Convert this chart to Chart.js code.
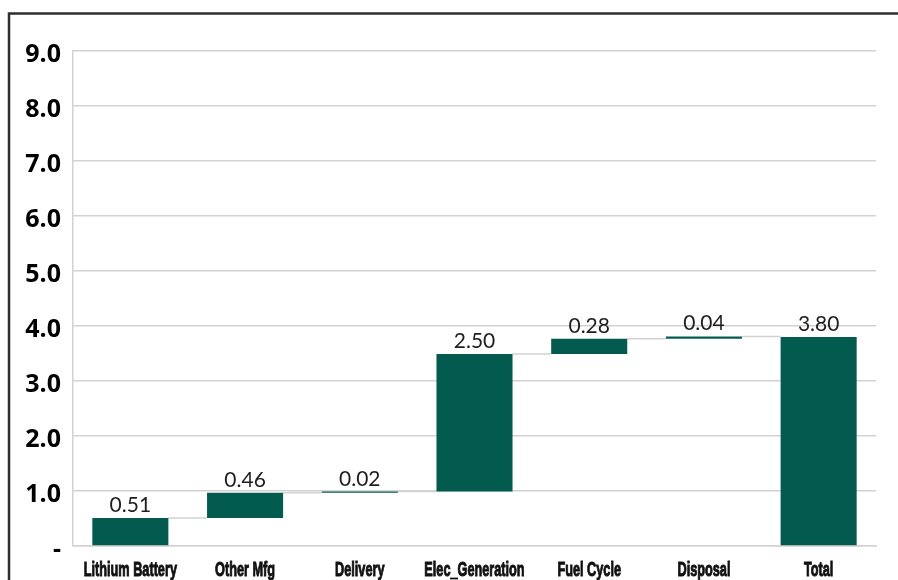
<!DOCTYPE html>
<html>
<head>
<meta charset="utf-8">
<style>
  html, body { margin: 0; padding: 0; background: #ffffff; }
  #wrap { width: 898px; height: 580px; position: relative; }
</style>
<script src="https://cdn.jsdelivr.net/npm/chart.js@4/dist/chart.umd.min.js"></script>
</head>
<body>
<div id="wrap"><canvas id="c" width="898" height="580"></canvas></div>
<script>
// Life-cycle contributions (stacked as a waterfall) and their total
const categories = ['Lithium Battery', 'Other Mfg', 'Delivery', 'Elec_Generation', 'Fuel Cycle', 'Disposal', 'Total'];
const stepValues = [0.51, 0.46, 0.02, 2.50, 0.28, 0.04];
const totalValue = 3.80;
const yTickLabels = ['-', '1.0', '2.0', '3.0', '4.0', '5.0', '6.0', '7.0', '8.0', '9.0'];

const BAR = '#035a4f';
const GRID = '#d2d2d2';

// floating ranges: each step starts where the previous one ended
const ranges = [];
let running = 0;
stepValues.forEach(v => { ranges.push([running, running + v]); running += v; });
ranges.push([0, totalValue]);
const labelValues = stepValues.concat([totalValue]);

const framePlugin = {
  id: 'frame',
  beforeDraw(chart) {
    const ctx = chart.ctx;
    ctx.save();
    ctx.strokeStyle = '#2f2f2f';
    ctx.lineWidth = 2.5;
    ctx.beginPath();
    ctx.moveTo(9, 580);
    ctx.lineTo(9, 13.5);
    ctx.lineTo(898, 13.5);
    ctx.stroke();
    ctx.restore();
  }
};

// thin connectors between consecutive bars at the running level
const connectorPlugin = {
  id: 'connectors',
  beforeDatasetsDraw(chart) {
    const meta = chart.getDatasetMeta(0);
    const y = chart.scales.y;
    const ctx = chart.ctx;
    ctx.save();
    ctx.strokeStyle = GRID;
    ctx.lineWidth = 1.5;
    for (let i = 0; i < meta.data.length - 1; i++) {
      const a = meta.data[i], b = meta.data[i + 1];
      const lvl = y.getPixelForValue(ranges[i][1]);
      ctx.beginPath();
      ctx.moveTo(a.x + a.width / 2, lvl);
      ctx.lineTo(b.x - b.width / 2, lvl);
      ctx.stroke();
    }
    ctx.restore();
  }
};

const valueLabelPlugin = {
  id: 'valueLabels',
  afterDatasetsDraw(chart) {
    const meta = chart.getDatasetMeta(0);
    const y = chart.scales.y;
    const ctx = chart.ctx;
    ctx.save();
    ctx.fillStyle = '#1e1e1e';
    ctx.font = '21px Lato, "Open Sans", sans-serif';
    ctx.textAlign = 'center';
    ctx.textBaseline = 'alphabetic';
    meta.data.forEach((bar, i) => {
      const top = y.getPixelForValue(Math.max(ranges[i][0], ranges[i][1]));
      ctx.fillText(labelValues[i].toFixed(2), bar.x, top - 6);
    });
    ctx.restore();
  }
};

// condensed heavy category labels under the axis
const categoryLabelPlugin = {
  id: 'categoryLabels',
  afterDraw(chart) {
    const x = chart.scales.x;
    const ctx = chart.ctx;
    ctx.save();
    ctx.fillStyle = '#111111';
    ctx.strokeStyle = '#111111';
    ctx.lineWidth = 1;
    ctx.font = 'bold 21px "Liberation Sans", Arial, sans-serif';
    ctx.textAlign = 'center';
    ctx.textBaseline = 'alphabetic';
    categories.forEach((c, i) => {
      const cx = x.getPixelForTick(i);
      ctx.save();
      ctx.translate(cx, 576);
      ctx.scale(0.605, 1);
      ctx.fillText(c, 0, 0);
      ctx.strokeText(c, 0, 0);
      ctx.restore();
    });
    ctx.restore();
  }
};

new Chart(document.getElementById('c'), {
  type: 'bar',
  data: {
    labels: categories,
    datasets: [{
      data: ranges,
      backgroundColor: BAR,
      borderWidth: 0,
      borderSkipped: false,
      barPercentage: 0.663,
      categoryPercentage: 1.0
    }]
  },
  options: {
    responsive: false,
    animation: false,
    devicePixelRatio: 1,
    layout: { padding: { left: 0, right: 22, top: 51, bottom: 0 } },
    plugins: { legend: { display: false }, tooltip: { enabled: false } },
    scales: {
      x: {
        grid: { display: false, drawTicks: false },
        border: { display: true, color: GRID, width: 1.5 },
        ticks: { display: false },
        afterFit(scale) { scale.height = 34; }
      },
      y: {
        min: 0,
        max: 9,
        grid: { color: GRID, lineWidth: 1.5, drawTicks: false },
        border: { display: true, color: GRID, width: 1.5 },
        ticks: {
          stepSize: 1,
          padding: 12,
          labelOffset: 4,
          color: '#000000',
          font: { family: '"Open Sans", sans-serif', weight: 'bold', size: 25 },
          callback: (v, i) => yTickLabels[i]
        },
        afterFit(scale) { scale.width = 73; }
      }
    }
  },
  plugins: [framePlugin, connectorPlugin, valueLabelPlugin, categoryLabelPlugin]
});
</script>
</body>
</html>
